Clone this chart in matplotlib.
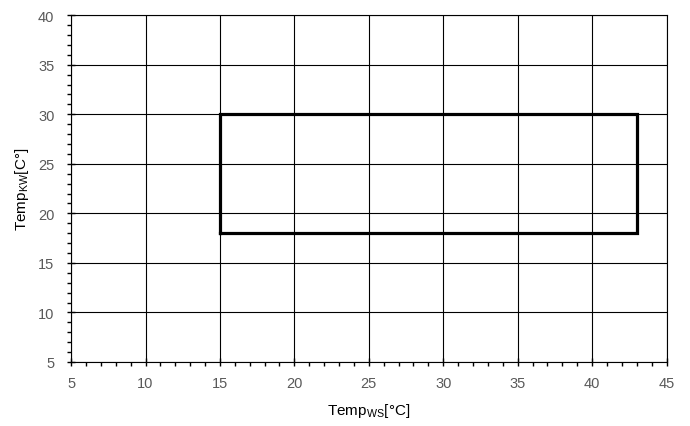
import matplotlib
matplotlib.use("Agg")
from matplotlib import pyplot as plt
from matplotlib.ticker import MultipleLocator

plt.rcParams['font.family'] = ['Liberation Sans', 'DejaVu Sans']

# 运行范围（矩形）
ws_range = [15, 43]   # Temp WS
kw_range = [18, 30]   # Temp KW

x_lim = [5, 45]
y_lim = [5, 40]

# 矩形轮廓的点
rect_x = [ws_range[0], ws_range[1], ws_range[1], ws_range[0], ws_range[0]]
rect_y = [kw_range[0], kw_range[0], kw_range[1], kw_range[1], kw_range[0]]

fig, ax = plt.subplots(figsize=(6.9, 4.27), dpi=100)
fig.subplots_adjust(left=0.103, right=0.966, top=0.962, bottom=0.150)

ax.plot(rect_x, rect_y, color='black', linewidth=2.3, solid_joinstyle='miter', zorder=3)

ax.set_xlim(x_lim)
ax.set_ylim(y_lim)
ax.xaxis.set_major_locator(MultipleLocator(5))
ax.yaxis.set_major_locator(MultipleLocator(5))
ax.xaxis.set_minor_locator(MultipleLocator(1))
ax.yaxis.set_minor_locator(MultipleLocator(1))
ax.grid(True, which='major', color='black', linewidth=0.8)

for s in ax.spines.values():
    s.set_color('black')
    s.set_linewidth(0.8)

ax.tick_params(which='major', direction='inout', length=6, width=1, colors='black',
               labelcolor='#595959', labelsize=10.5)
ax.tick_params(which='minor', direction='out', length=3, width=1, colors='black')
ax.tick_params(axis='x', which='major', pad=7)
ax.tick_params(axis='y', which='major', pad=9)

ax.set_xlabel("Temp$_{\\mathregular{WS}}$[°C]", fontsize=11, labelpad=8)
ax.set_ylabel("Temp$_{\\mathregular{KW}}$[C°]", fontsize=11, labelpad=5)

fig.savefig("out.png", dpi=100)
